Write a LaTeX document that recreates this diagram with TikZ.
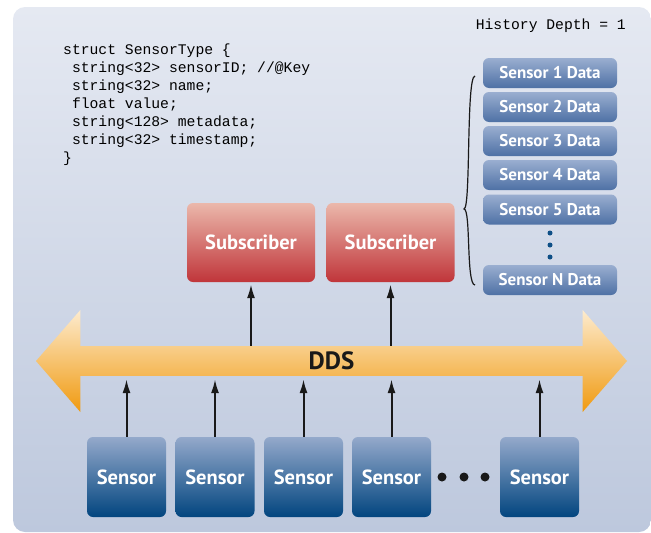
\documentclass[tikz,border=0pt]{standalone}
\usepackage{fontspec}
\setsansfont{PT Sans}
\setmonofont{Liberation Mono}
\usepackage{tikz}
\usetikzlibrary{arrows.meta,shapes.arrows,positioning,calc}

\definecolor{panelTop}{HTML}{E5E9F2}
\definecolor{panelBot}{HTML}{BDC8DD}
\definecolor{dataTop}{HTML}{9AAED0}
\definecolor{dataBot}{HTML}{4E71A5}
\definecolor{sensTop}{HTML}{94A9CB}
\definecolor{sensBot}{HTML}{02457F}
\definecolor{subTop}{HTML}{EBB8AB}
\definecolor{subBot}{HTML}{C0353A}
\definecolor{ddsTop}{HTML}{FDEBCE}
\definecolor{ddsBot}{HTML}{F09A10}
\definecolor{dotBlue}{HTML}{0E4F86}

\tikzset{
  databox/.style = {rounded corners = 6pt, top color = dataTop, bottom color = dataBot,
    minimum width = 134pt, minimum height = 30pt, inner sep = 0pt,
    text = white, font = {\sffamily\bfseries\fontsize{17}{19}\selectfont}},
  sensorbox/.style = {rounded corners = 6pt, top color = sensTop, bottom color = sensBot,
    minimum width = 79pt, minimum height = 80pt, inner sep = 0pt,
    text = white, font = {\sffamily\bfseries\fontsize{20.5}{23}\selectfont}},
  subbox/.style = {rounded corners = 6pt, top color = subTop, bottom color = subBot,
    minimum width = 128pt, minimum height = 79pt, inner sep = 0pt,
    text = white, font = {\sffamily\bfseries\fontsize{20.5}{23}\selectfont}},
  flow/.style = {-{Latex[length = 14pt, width = 8pt]}, line width = 2pt, black!90},
  bigdot/.style = {circle, fill = #1, inner sep = 0pt, minimum size = 9pt},
}

\begin{document}
\begin{tikzpicture}[x = 1pt, y = -1pt]
\useasboundingbox (0,0) rectangle (651,533);
\shade[top color = panelTop, bottom color = panelBot, rounded corners = 12pt]
  (13,7) rectangle (651,532);

% data type
\node[anchor = north west, align = left, inner sep = 0pt,
  font = {\ttfamily\fontsize{14.7}{18}\selectfont}] (code) at (63,44)
  {struct SensorType \{\\
  \ string<32> sensorID; //@Key\\
  \ string<32> name;\\
  \ float value;\\
  \ string<128> metadata;\\
  \ string<32> timestamp;\\
  \}};
\node[anchor = north east, inner sep = 0pt,
  font = {\ttfamily\fontsize{14.7}{16}\selectfont}] (depth) at (626,19) {History Depth = 1};

% history queue
\node[databox] (d1) at (550,73) {Sensor 1 Data};
\node[databox] (d2) at (550,107) {Sensor 2 Data};
\node[databox] (d3) at (550,141) {Sensor 3 Data};
\node[databox] (d4) at (550,175) {Sensor 4 Data};
\node[databox] (d5) at (550,209.5) {Sensor 5 Data};
\node[databox] (dn) at (550,280) {Sensor N Data};
\foreach \y [count = \i] in {233,245,257}
  \node[bigdot = dotBlue, minimum size = 5pt] (vdot\i) at (550,\y) {};
\draw[line width = 1.2pt, black!90] (475,76) .. controls (466,76) and (471,209) .. (464,209)
  .. controls (471,209) and (466,285) .. (475,285);

% subscribers
\node[subbox] (sub1) at (251,242.5) {Subscriber};
\node[subbox] (sub2) at (390.5,242.5) {Subscriber};

% bus
\node[double arrow, double arrow head extend = 22.5pt, double arrow tip angle = 98,
  minimum width = 102pt, minimum height = 591pt, inner sep = 0pt,
  top color = ddsTop, bottom color = ddsBot,
  font = {\sffamily\bfseries\fontsize{25}{28}\selectfont}, text = black!90]
  (dds) at (331.5,361) {DDS};

% sensors
\foreach \x [count = \i] in {126.5,215,303.5,391.5,539.5}
  \node[sensorbox] (s\i) at (\x,477) {Sensor};
\foreach \x [count = \i] in {442,464,485}
  \node[bigdot = black!90] (hdot\i) at (\x,477) {};

\foreach \i in {1,...,5}
  \draw[flow, shorten > = 3pt] (s\i.north) -- (s\i.north |- dds.south);
\draw[flow, shorten > = 2pt] (sub1.south |- dds.north) -- (sub1.south);
\draw[flow, shorten > = 2pt] (sub2.south |- dds.north) -- (sub2.south);
\end{tikzpicture}
\end{document}
